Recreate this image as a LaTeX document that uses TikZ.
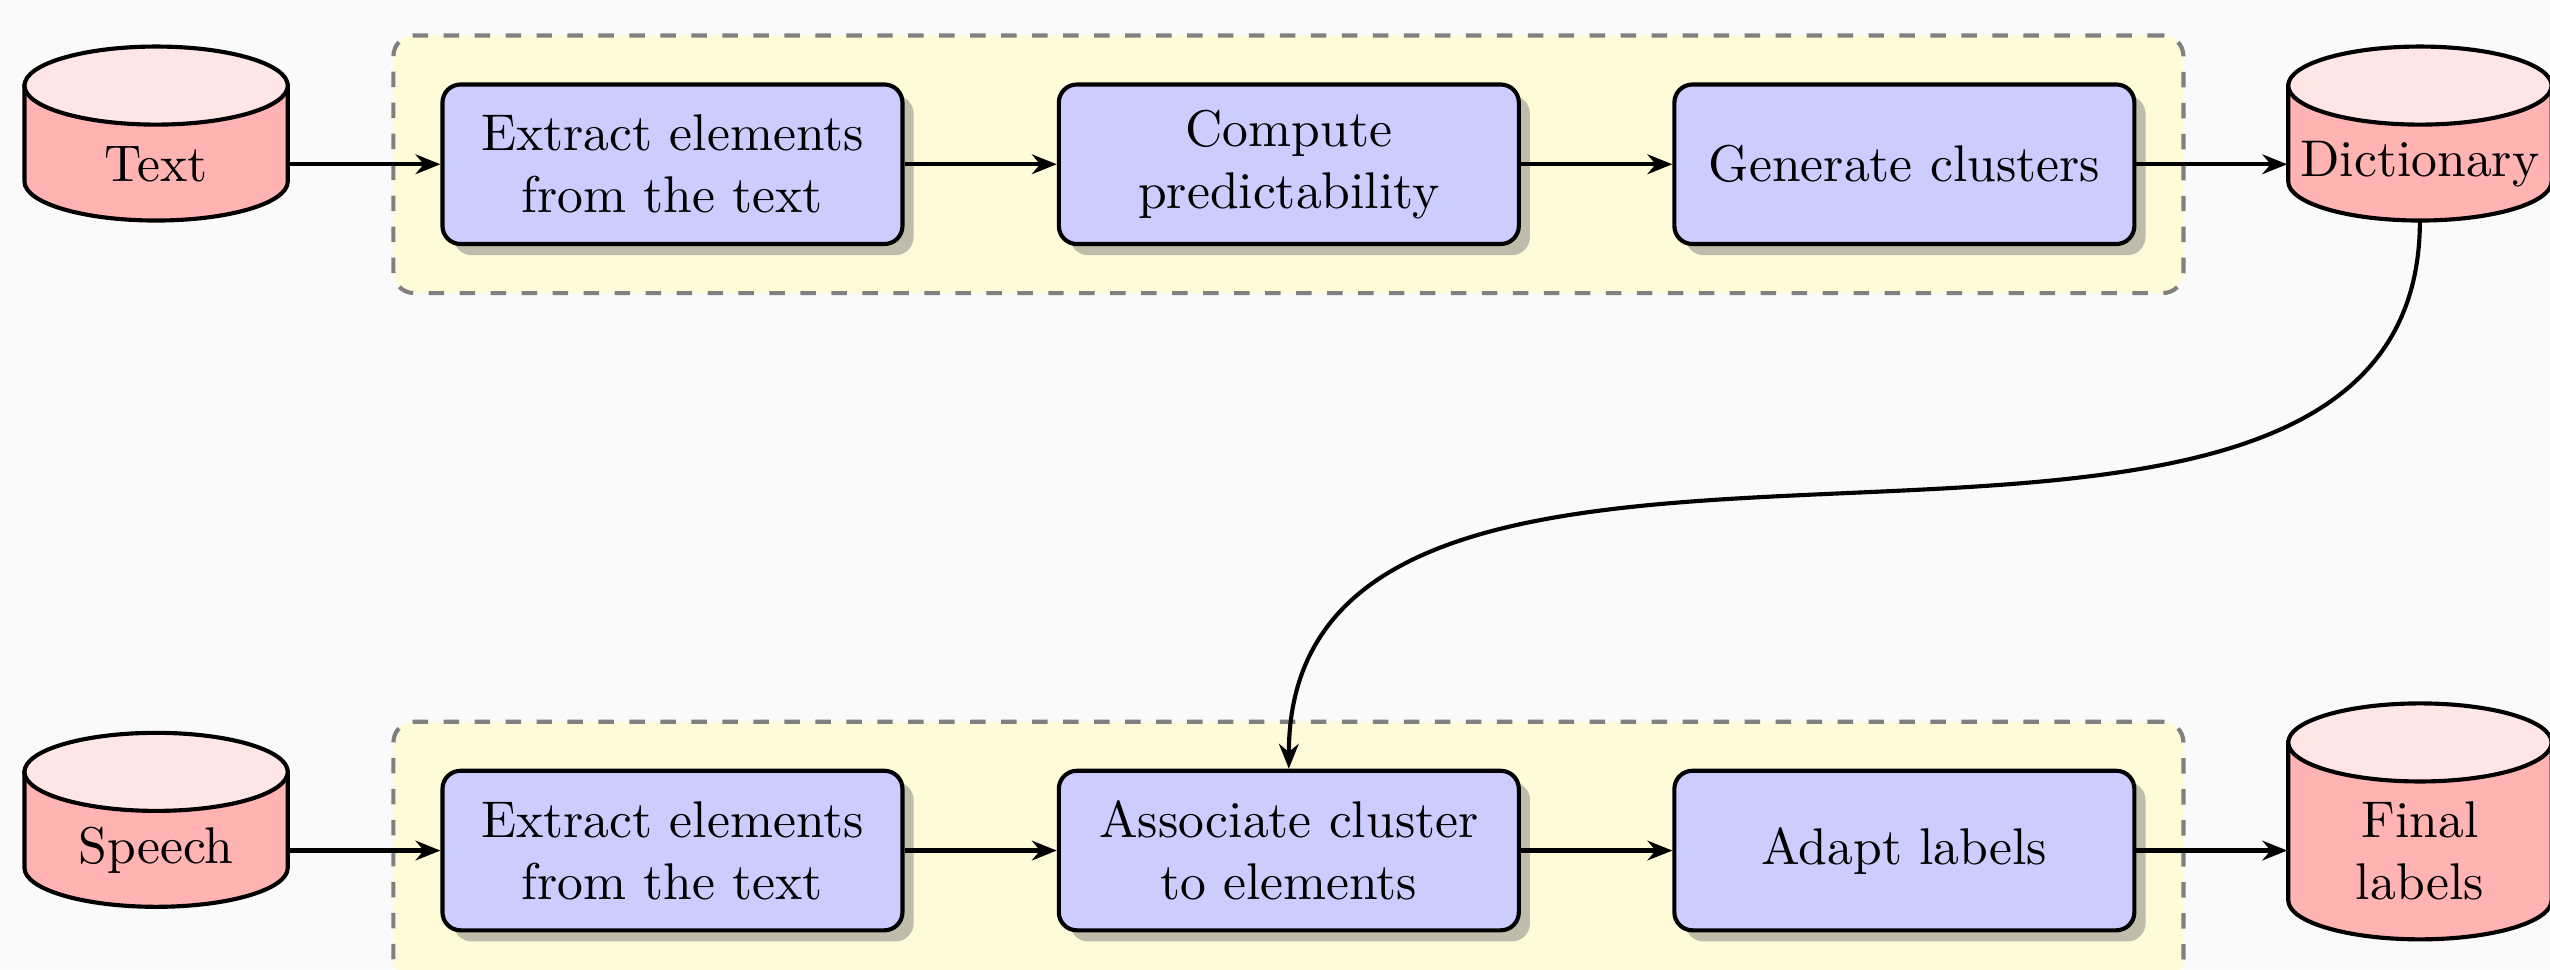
\documentclass[tikz,border=0pt]{standalone}
\usetikzlibrary{shadows,fit,backgrounds,arrows.meta}
\definecolor{pagebg}{RGB}{250,250,250}
\definecolor{groupfill}{RGB}{255,250,216}
\definecolor{stepfill}{RGB}{204,204,255}
\definecolor{dbbody}{RGB}{255,179,179}
\definecolor{dbtop}{RGB}{255,230,230}
\tikzset{
  stepbox/.style={draw, thick, rounded corners=3.5pt, fill=stepfill, drop shadow,
    align=center, minimum width=89.1pt, minimum height=30.9pt},
  dbnode/.style={minimum width=51pt, minimum height=21.4pt, inner sep=0pt, align=center},
  dbline/.style={thick},
  group/.style={draw=gray, dashed, thick, fill=groupfill, rounded corners=4pt, inner sep=9.1pt},
  flow/.style={thick, -{Stealth[length=4.8pt,width=3.8pt]}},
}
% cylinder standing on the south anchor of node #1, total height #2
\newcommand\dbdraw[2]{%
  \filldraw[dbline, fill=dbbody]
    ([shift={(-25.5pt,7.56pt)}]#1.south) -- ([shift={(-25.5pt,#2-7.56pt)}]#1.south)
    -- ([shift={(25.5pt,#2-7.56pt)}]#1.south) -- ([shift={(25.5pt,7.56pt)}]#1.south)
    arc[start angle=0, end angle=-180, x radius=25.5pt, y radius=7.56pt] -- cycle;
  \filldraw[dbline, fill=dbtop] ([yshift=#2-7.56pt]#1.south)
    ellipse[x radius=25.5pt, y radius=7.56pt];
}
\begin{document}
\begin{tikzpicture}[x=0.315pt, y=-0.315pt]
  \useasboundingbox (0,0) rectangle (1568,596);

  % top row: building the dictionary from text
  \node[dbnode] (text) at (96,101) {Text};
  \node[stepbox] (ext1) at (413.5,101) {Extract elements\\from the text};
  \node[stepbox] (pred) at (792.5,101) {Compute\\predictability};
  \node[stepbox] (gen)  at (1171,101) {Generate clusters};
  \node[dbnode] (dict) at (1488,101) {Dictionary};

  % bottom row: labelling speech
  \node[dbnode] (speech) at (96,523) {Speech};
  \node[stepbox] (ext2)  at (413.5,523) {Extract elements\\from the text};
  \node[stepbox] (assoc) at (792.5,523) {Associate cluster\\to elements};
  \node[stepbox] (adapt) at (1171,523) {Adapt labels};
  \node[dbnode, minimum height=34pt] (final) at (1488,523) {Final\\labels};

  \begin{scope}[on background layer]
    \fill[pagebg] (0,0) rectangle (1568,596);
    \node[group, fit=(ext1)(gen)] (top) {};
    \node[group, fit=(ext2)(adapt)] (bottom) {};
    \dbdraw{text}{33.7pt}
    \dbdraw{dict}{33.7pt}
    \dbdraw{speech}{33.7pt}
    \dbdraw{final}{45.7pt}
  \end{scope}

  \draw[flow] (text.east) -- (ext1.west);
  \draw[flow] (ext1.east) -- (pred.west);
  \draw[flow] (pred.east) -- (gen.west);
  \draw[flow] (gen.east) -- (dict.west);

  \draw[flow] (speech.east) -- (ext2.west);
  \draw[flow] (ext2.east) -- (assoc.west);
  \draw[flow] (assoc.east) -- (adapt.west);
  \draw[flow] (adapt.east) -- (final.west);

  \draw[flow] (dict.south) to[out=-90, in=90] (assoc.north);
\end{tikzpicture}
\end{document}
